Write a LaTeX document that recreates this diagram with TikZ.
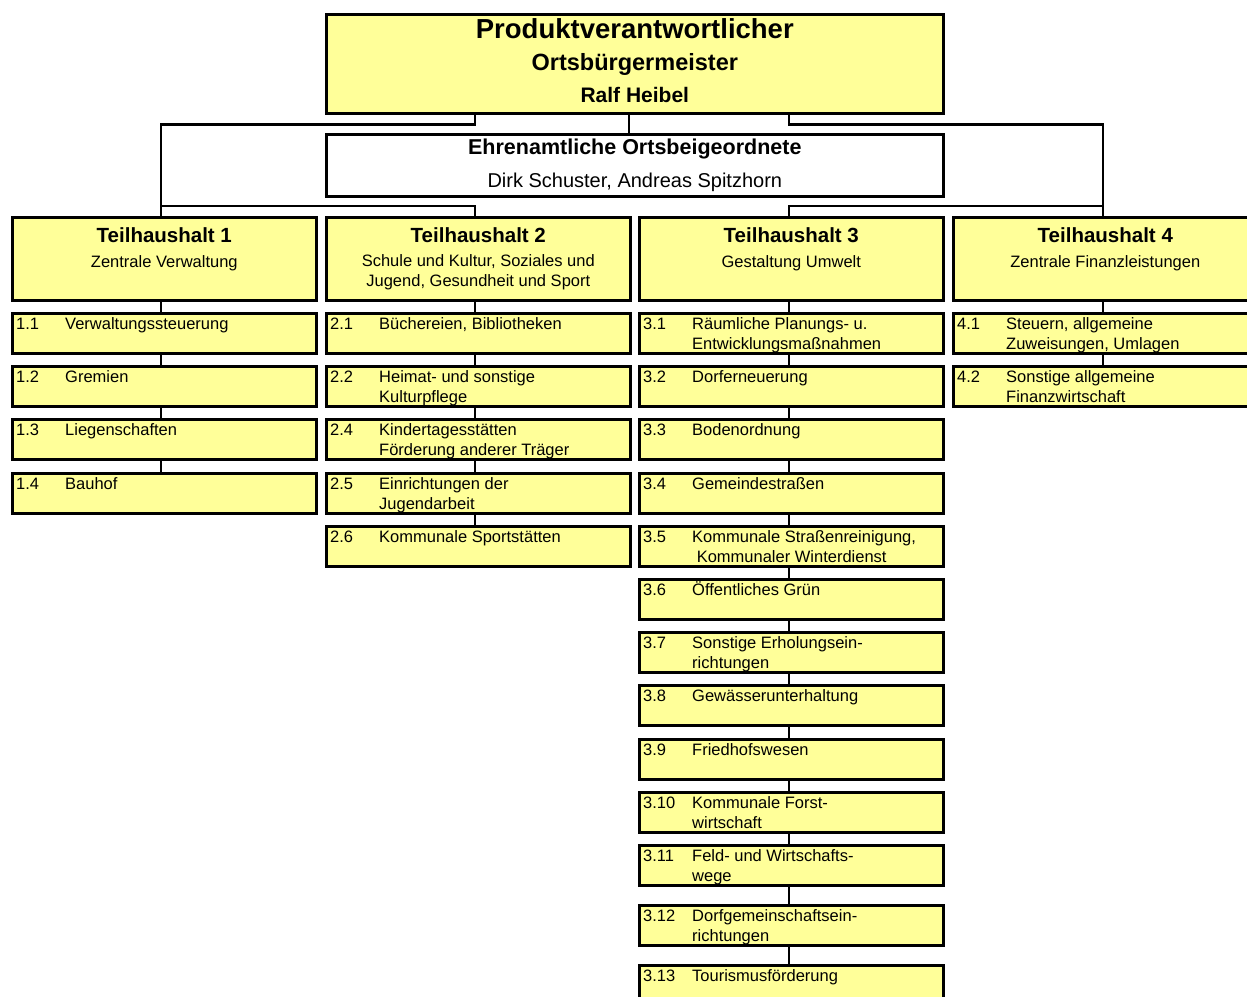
\documentclass[tikz,border=0pt]{standalone}
\usepackage{fontspec}
\setmainfont{Liberation Sans}
\usetikzlibrary{calc,backgrounds}
\definecolor{boxyellow}{HTML}{FFFF99}
\newcommand\itembox[6]{%
  \node[ibox] (#1) at (#2,#3) {};
  \node[itext] at ($(#1.north west)+(5,17)$) {\begin{tabular}[t]{@{}p{49pt}@{}l@{}}#4&#5\\&#6\end{tabular}};}
\begin{document}
\begin{tikzpicture}[x=1pt,y=-1pt,
  bx/.style={draw=black,line width=2.6pt,anchor=north west,inner sep=0pt},
  ybox/.style={bx,fill=boxyellow},
  ibox/.style={ybox,minimum width=304pt,minimum height=40pt},
  thbox/.style={ybox,minimum width=304pt,minimum height=83pt},
  itext/.style={anchor=base west,inner sep=0pt,font=\fontsize{16.5}{20}\selectfont},
  ttext/.style={anchor=base,inner sep=0pt,align=center},
  conn/.style={draw=black,line width=2.8pt}]
\useasboundingbox (0,0) rectangle (1247,996);
% column axes
\coordinate (c1) at (161,0);
\coordinate (c2) at (475,0);
\coordinate (c0) at (629,0);
\coordinate (c3) at (789,0);
\coordinate (c4) at (1103,0);
% top boxes
\node[ybox,minimum width=617pt,minimum height=99pt] (top) at (325,13) {};
\node[ttext,font=\bfseries\fontsize{27.5}{30}\selectfont] at ($(top.north)+(0,25)$) {Produktverantwortlicher};
\node[ttext,font=\bfseries\fontsize{23.5}{26}\selectfont] at ($(top.north)+(0,57)$) {Ortsbürgermeister};
\node[ttext,font=\bfseries\fontsize{21}{24}\selectfont] at ($(top.north)+(0,89.5)$) {Ralf Heibel};
\node[bx,fill=white,minimum width=617pt,minimum height=62pt] (ehr) at (325,133) {};
\node[ttext,font=\bfseries\fontsize{21.5}{24}\selectfont] at ($(ehr.north)+(0,21)$) {Ehrenamtliche Ortsbeigeordnete};
\node[ttext,font=\fontsize{20}{24}\selectfont] at ($(ehr.north)+(0,54)$) {Dirk Schuster, Andreas Spitzhorn};
% Teilhaushalte
\node[thbox] (th1) at (11,216) {};
\node[thbox] (th2) at (325,216) {};
\node[thbox] (th3) at (638,216) {};
\node[thbox] (th4) at (952,216) {};
\foreach \n/\s in {th1/{Teilhaushalt 1},th2/{Teilhaushalt 2},th3/{Teilhaushalt 3},th4/{Teilhaushalt 4}}
  \node[ttext,font=\bfseries\fontsize{20.5}{24}\selectfont] at ($(\n.north)+(0,26)$) {\s};
\node[ttext,font=\fontsize{16.5}{20}\selectfont] at ($(th1.north)+(0,51)$) {Zentrale Verwaltung};
\node[ttext,font=\fontsize{16.5}{20}\selectfont,anchor=north] at ($(th2.north)+(0,38.5)$) {Schule und Kultur, Soziales und\\Jugend, Gesundheit und Sport};
\node[ttext,font=\fontsize{16.5}{20}\selectfont] at ($(th3.north)+(0,51)$) {Gestaltung Umwelt};
\node[ttext,font=\fontsize{16.5}{20}\selectfont] at ($(th4.north)+(0,51)$) {Zentrale Finanzleistungen};
% column 1
\itembox{i11}{11}{312}{1.1}{Verwaltungssteuerung}{}
\itembox{i12}{11}{365}{1.2}{Gremien}{}
\itembox{i13}{11}{418}{1.3}{Liegenschaften}{}
\itembox{i14}{11}{472}{1.4}{Bauhof}{}
% column 2
\itembox{i21}{325}{312}{2.1}{Büchereien, Bibliotheken}{}
\itembox{i22}{325}{365}{2.2}{Heimat- und sonstige}{Kulturpflege}
\itembox{i24}{325}{418}{2.4}{Kindertagesstätten}{Förderung anderer Träger}
\itembox{i25}{325}{472}{2.5}{Einrichtungen der}{Jugendarbeit}
\itembox{i26}{325}{525}{2.6}{Kommunale Sportstätten}{}
% column 3
\itembox{i31}{638}{312}{3.1}{Räumliche Planungs- u.}{Entwicklungsmaßnahmen}
\itembox{i32}{638}{365}{3.2}{Dorferneuerung}{}
\itembox{i33}{638}{418}{3.3}{Bodenordnung}{}
\itembox{i34}{638}{472}{3.4}{Gemeindestraßen}{}
\itembox{i35}{638}{525}{3.5}{Kommunale Straßenreinigung,}{\ Kommunaler Winterdienst}
\itembox{i36}{638}{578}{3.6}{Öffentliches Grün}{}
\itembox{i37}{638}{631}{3.7}{Sonstige Erholungsein-}{richtungen}
\itembox{i38}{638}{684}{3.8}{Gewässerunterhaltung}{}
\itembox{i39}{638}{738}{3.9}{Friedhofswesen}{}
\itembox{i310}{638}{791}{3.10}{Kommunale Forst-}{wirtschaft}
\itembox{i311}{638}{844}{3.11}{Feld- und Wirtschafts-}{wege}
\itembox{i312}{638}{904}{3.12}{Dorfgemeinschaftsein-}{richtungen}
\itembox{i313}{638}{964}{3.13}{Tourismusförderung}{}
% column 4
\itembox{i41}{952}{312}{4.1}{Steuern, allgemeine}{Zuweisungen, Umlagen}
\itembox{i42}{952}{365}{4.2}{Sonstige allgemeine}{Finanzwirtschaft}
% connectors
\begin{scope}[on background layer]
\fill[white] (0,0) rectangle (1247,996);
\draw[conn] (top.south -| c2) -- ($(top.south -| c2)+(0,10)$) -| (th1.north -| c1);
\draw[conn] (top.south -| c3) -- ($(top.south -| c3)+(0,10)$) -| (th4.north -| c4);
\draw[conn] (top.south -| c0) -- (ehr.north -| c0);
\draw[conn] ($(th1.north -| c1)+(0,-10)$) -| (th2.north -| c2);
\draw[conn] ($(th4.north -| c4)+(0,-10)$) -| (th3.north -| c3);
\draw[conn] (th1.south -| c1) -- (i14.north -| c1);
\draw[conn] (th2.south -| c2) -- (i26.north -| c2);
\draw[conn] (th3.south -| c3) -- (i313.north -| c3);
\draw[conn] (th4.south -| c4) -- (i42.north -| c4);
\end{scope}
\end{tikzpicture}
\end{document}
